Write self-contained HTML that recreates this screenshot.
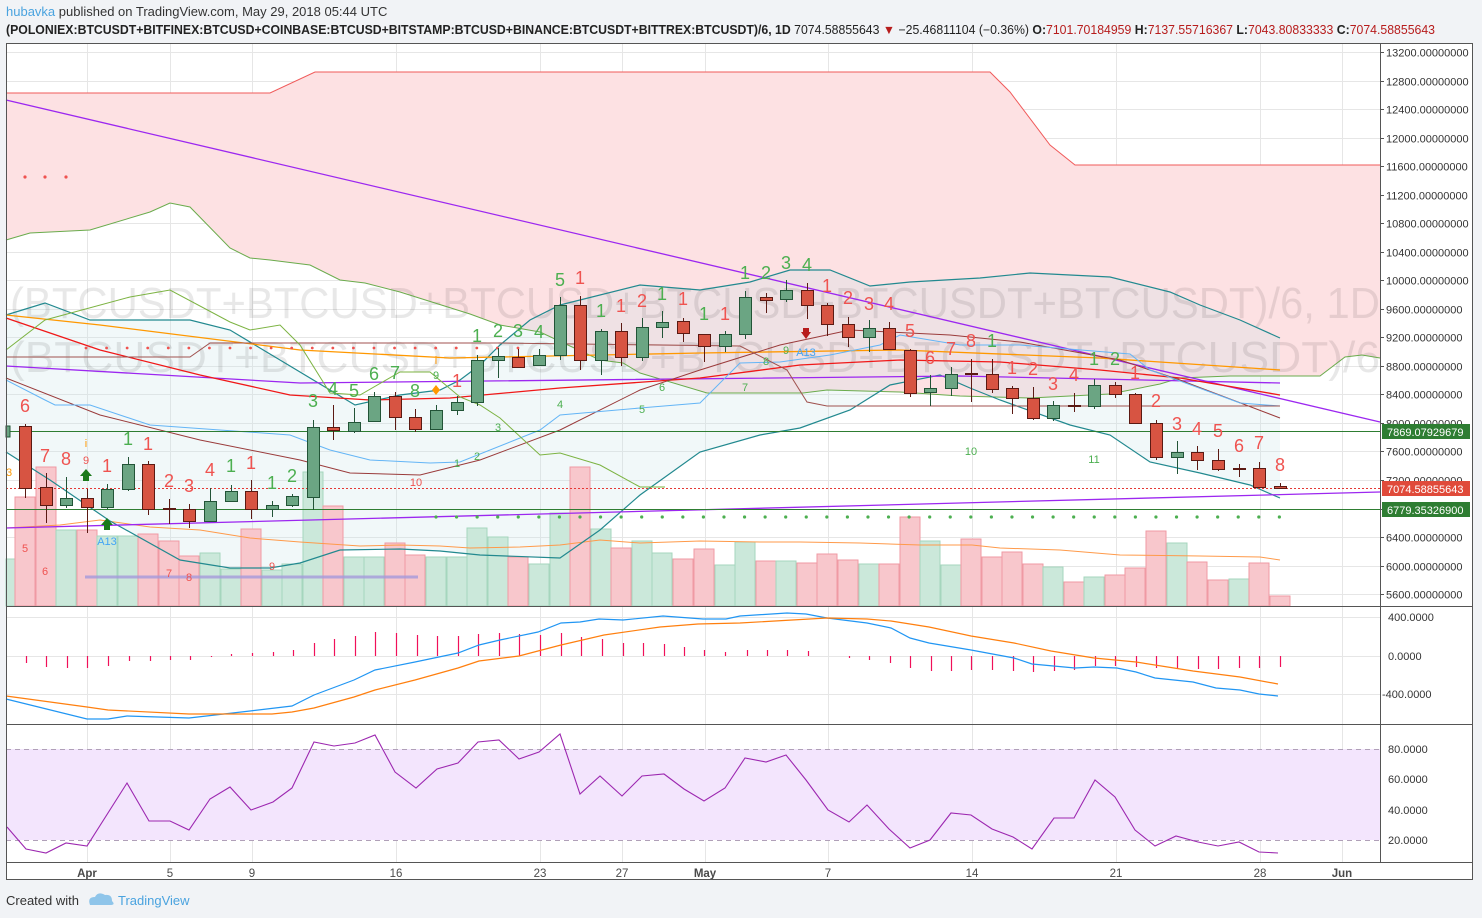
<!DOCTYPE html>
<html><head><meta charset="utf-8"><style>
html,body{margin:0;padding:0;background:#f1f3f6;}
svg{display:block;font-family:"Liberation Sans",sans-serif;}
</style></head><body>
<svg id="s" width="1482" height="918" viewBox="0 0 1482 918" xmlns="http://www.w3.org/2000/svg">
<rect x="0" y="0" width="1482" height="918" fill="#f1f3f6"/>
<rect x="6" y="43" width="1467" height="837" fill="#fff"/>
<g id="grid" stroke="#e6e6e6" stroke-width="1"></g>
<g id="bg"></g>
<text x="10" y="318" font-size="44" fill="rgba(0,0,0,0.09)" textLength="1370" lengthAdjust="spacingAndGlyphs">(BTCUSDT+BTCUSD+BTCUSD+BTCUSD+BTCUSDT+BTCUSDT)/6, 1D</text>
<text x="10" y="372" font-size="44" fill="rgba(0,0,0,0.09)" textLength="1370" lengthAdjust="spacingAndGlyphs">(BTCUSDT+BTCUSD+BTCUSD+BTCUSD+BTCUSDT+BTCUSDT)/6</text>
<g id="fg"></g>
<g font-size="18" text-anchor="middle" fill="#ef5350">
<text x="25" y="412">6</text><text x="45" y="462">7</text><text x="66" y="465">8</text><text x="107" y="472">1</text><text x="148" y="450">1</text><text x="169" y="487">2</text><text x="189" y="492">3</text><text x="210" y="476">4</text><text x="251" y="469">1</text><text x="457" y="387">1</text><text x="580" y="284">1</text><text x="621" y="312">1</text><text x="642" y="307">2</text><text x="683" y="305">1</text><text x="725" y="320">1</text><text x="827" y="292">1</text><text x="848" y="304">2</text><text x="869" y="310">3</text><text x="889" y="310">4</text><text x="910" y="337">5</text><text x="930" y="364">6</text><text x="951" y="355">7</text><text x="971" y="347">8</text><text x="1012" y="374">1</text><text x="1033" y="375">2</text><text x="1053" y="390">3</text><text x="1074" y="381">4</text><text x="1135" y="379">1</text><text x="1156" y="407">2</text><text x="1177" y="430">3</text><text x="1197" y="435">4</text><text x="1218" y="437">5</text><text x="1239" y="452">6</text><text x="1259" y="449">7</text><text x="1280" y="471">8</text>
</g>
<g font-size="18" text-anchor="middle" fill="#4caf50">
<text x="128" y="445">1</text><text x="231" y="472">1</text><text x="272" y="489">1</text><text x="292" y="482">2</text><text x="313" y="407">3</text><text x="333" y="395">4</text><text x="354" y="397">5</text><text x="374" y="380">6</text><text x="395" y="379">7</text><text x="415" y="397">8</text><text x="477" y="342">1</text><text x="498" y="337">2</text><text x="518" y="337">3</text><text x="539" y="338">4</text><text x="560" y="286">5</text><text x="601" y="317">1</text><text x="662" y="300">1</text><text x="704" y="320">1</text><text x="745" y="279">1</text><text x="766" y="279">2</text><text x="786" y="269">3</text><text x="807" y="271">4</text><text x="992" y="347">1</text><text x="1094" y="365">1</text><text x="1115" y="365">2</text>
</g>
<g font-size="11" text-anchor="middle">
<text x="25" y="552" fill="#ef5350">5</text><text x="45" y="575" fill="#ef5350">6</text><text x="86" y="464" fill="#ef5350">9</text><text x="169" y="577" fill="#ef5350">7</text><text x="189" y="581" fill="#ef5350">8</text><text x="272" y="570" fill="#ef5350">9</text><text x="416" y="486" fill="#ef5350">10</text>
<text x="436" y="379" fill="#4caf50">9</text><text x="457" y="467" fill="#4caf50">1</text><text x="477" y="460" fill="#4caf50">2</text><text x="498" y="431" fill="#4caf50">3</text><text x="560" y="408" fill="#4caf50">4</text><text x="642" y="413" fill="#4caf50">5</text><text x="662" y="391" fill="#4caf50">6</text><text x="745" y="391" fill="#4caf50">7</text><text x="766" y="365" fill="#4caf50">8</text><text x="786" y="354" fill="#4caf50">9</text><text x="971" y="455" fill="#4caf50">10</text><text x="1094" y="463" fill="#4caf50">11</text>
<text x="107" y="545" fill="#42a5f5">A13</text><text x="806" y="356" fill="#42a5f5">A13</text>
<text x="9" y="476" fill="#ff9800">3</text><text x="86" y="447" fill="#ff9800">i</text><text x="436" y="364" fill="#ff9800">i</text>
</g>
<path d="M80,476 L86,469 L92,476 L89,476 L89,481 L83,481 L83,476Z" fill="#1b7a1b"/>
<path d="M101,525 L107,518 L113,525 L110,525 L110,530 L104,530 L104,525Z" fill="#1b7a1b"/>
<path d="M801,332 L811,332 L811,332 L806,339Z M803,328 h6 v5 h-6Z" fill="#b71c1c"/>
<path d="M436,385 L440,390 L436,395 L432,390Z" fill="#ff9800"/>
<g id="plab" font-size="11" fill="#333"></g>
<rect x="1382" y="424" width="88" height="15" fill="#2e7d32"/><text x="1387" y="436" font-size="11" fill="#fff">7869.07929679</text>
<rect x="1382" y="481" width="88" height="15" fill="#e04a3a"/><text x="1387" y="493" font-size="11" fill="#fff">7074.58855643</text>
<rect x="1382" y="502" width="88" height="15" fill="#2e7d32"/><text x="1387" y="514" font-size="11" fill="#fff">6779.35326900</text>
<g font-size="11" fill="#333">
<text x="1388" y="621">400.0000</text><text x="1388" y="660">0.0000</text><text x="1382" y="698">-400.0000</text>
<text x="1388" y="753">80.0000</text><text x="1388" y="783">60.0000</text><text x="1388" y="814">40.0000</text><text x="1388" y="844">20.0000</text>
</g>
<g font-size="11.5" fill="#4a4a4a" text-anchor="middle">
<text x="87" y="877" font-weight="bold">Apr</text><text x="170" y="877">5</text><text x="252" y="877">9</text><text x="396" y="877">16</text><text x="540" y="877">23</text><text x="622" y="877">27</text><text x="705" y="877" font-weight="bold">May</text><text x="828" y="877">7</text><text x="972" y="877">14</text><text x="1116" y="877">21</text><text x="1260" y="877">28</text><text x="1342" y="877" font-weight="bold">Jun</text>
</g>
<g stroke="#555" fill="none" stroke-width="1">
<rect x="6.5" y="43.5" width="1466" height="836"/>
<line x1="1380.5" y1="43" x2="1380.5" y2="862"/>
<line x1="6" y1="606.5" x2="1473" y2="606.5"/>
<line x1="6" y1="724.5" x2="1473" y2="724.5"/>
<line x1="6" y1="862.5" x2="1473" y2="862.5"/>
</g>
<text x="6" y="16" font-size="13" fill="#333"><tspan fill="#4aa3df">hubavka</tspan> published on TradingView.com, May 29, 2018 05:44 UTC</text>
<text x="6" y="34" font-size="12.5" font-weight="bold" fill="#222" textLength="1429" lengthAdjust="spacingAndGlyphs">(POLONIEX:BTCUSDT+BITFINEX:BTCUSD+COINBASE:BTCUSD+BITSTAMP:BTCUSD+BINANCE:BTCUSDT+BITTREX:BTCUSDT)/6, 1D <tspan font-weight="normal">7074.58855643</tspan> <tspan fill="#b71c1c">▼</tspan> <tspan font-weight="normal">−25.46811104 (−0.36%)</tspan> O:<tspan fill="#b71c1c" font-weight="normal">7101.70184959</tspan> H:<tspan fill="#b71c1c" font-weight="normal">7137.55716367</tspan> L:<tspan fill="#b71c1c" font-weight="normal">7043.80833333</tspan> C:<tspan fill="#b71c1c" font-weight="normal">7074.58855643</tspan></text>
<text x="6" y="905" font-size="13" fill="#333">Created with</text>
<path d="M90,905 q-3,-8 5,-8 q3,-6 10,-2 q7,-1 7,6 q4,4 -2,4Z" fill="#8fc5ea"/>
<text x="118" y="905" font-size="13" fill="#4aa3df">TradingView</text>
</svg>
<script>
(function(){
const NS="http://www.w3.org/2000/svg";
function el(p,t,a){const e=document.createElementNS(NS,t);for(const k in a)e.setAttribute(k,a[k]);document.getElementById(p).appendChild(e);return e;}
function pl(p,pts,st,w,extra){const a={points:pts.map(q=>q.join(',')).join(' '),fill:'none',stroke:st,'stroke-width':w||1};Object.assign(a,extra||{});return el(p,'polyline',a);}
[87,170,252,396,540,622,705,828,972,1116,1260,1342].forEach(x=>el('grid','line',{x1:x+.5,y1:43,x2:x+.5,y2:862}));
const yp=p=>52+(13200-p)*0.07133;
for(let p=13200;p>=5600;p-=400){const y=Math.round(yp(p))+.5;el('grid','line',{x1:6,y1:y,x2:1380,y2:y});const t=el('plab','text',{x:1386,y:y+4});t.textContent=p+'.00000000';el('plab','line',{x1:1380,y1:y,x2:1384,y2:y,stroke:'#555'});}
[617,656,694,779,810].forEach(y=>el('grid','line',{x1:6,y1:y+.5,x2:1380,y2:y+.5}));
el('bg','rect',{x:6,y:749,width:1374,height:91,fill:'#f3e5fd'});
el('bg','line',{x1:6,y1:749.5,x2:1380,y2:749.5,stroke:'#b0a0b8','stroke-dasharray':'5,4'});
el('bg','line',{x1:6,y1:840.5,x2:1380,y2:840.5,stroke:'#b0a0b8','stroke-dasharray':'5,4'});
const ctop=[[6,93],[270,93],[315,72],[990,72],[1010,92],[1050,145],[1075,165],[1380,165]];
const bot=[[6,240],[30,233],[90,230],[150,212],[170,203],[190,207],[230,248],[250,258],[270,260],[310,265],[340,280],[365,283],[400,292],[470,314],[500,325],[540,332],[600,360],[623,363],[640,373],[707,393],[803,393],[827,390],[900,392],[960,396],[1030,398],[1110,394],[1160,384],[1180,378],[1230,376],[1320,376],[1345,357],[1362,355],[1380,358]];
el('bg','polygon',{points:ctop.concat(bot.slice().reverse()).map(q=>q.join(',')).join(' '),fill:'#fde1e3'});
const bu=[[6,315],[45,303],[90,320],[150,320],[190,320],[230,330],[280,360],[330,390],[355,405],[400,395],[440,390],[460,380],[480,365],[500,345],[530,320],[560,305],[640,285],[700,290],[750,282],[790,270],[830,270],[870,286],[910,282],[980,278],[1030,273],[1110,277],[1170,292],[1200,305],[1240,320],[1280,338]];
const bl=[[6,452],[50,480],[110,521],[180,560],[230,568],[270,568],[300,563],[340,550],[400,549],[440,551],[480,555],[560,558],[600,530],[640,495],[700,452],[760,435],[800,428],[850,410],[890,385],[940,375],[970,388],[1000,400],[1070,425],[1110,435],[1150,462],[1200,473],[1250,485],[1280,498]];
el('bg','polygon',{points:bu.concat(bl.slice().reverse()).map(q=>q.join(',')).join(' '),fill:'rgba(200,228,232,0.25)'});
const vol=[[5,559,'g'],[25,497,'r'],[46,467,'r'],[66,530,'g'],[87,530,'r'],[107,536,'g'],[128,536,'g'],[148,534,'r'],[169,541,'r'],[189,556,'r'],[210,553,'g'],[231,569,'g'],[251,529,'r'],[272,570,'g'],[292,564,'g'],[313,472,'g'],[333,506,'r'],[354,557,'g'],[374,557,'g'],[395,543,'r'],[415,555,'r'],[436,557,'g'],[457,557,'g'],[477,528,'g'],[498,537,'g'],[518,557,'r'],[539,564,'g'],[560,513,'g'],[580,467,'r'],[601,529,'g'],[621,548,'r'],[642,541,'g'],[662,553,'g'],[683,559,'r'],[704,549,'r'],[725,565,'g'],[745,542,'g'],[766,561,'r'],[786,561,'g'],[807,563,'r'],[827,554,'r'],[848,560,'r'],[869,564,'g'],[889,564,'r'],[910,517,'r'],[930,541,'g'],[951,565,'g'],[971,539,'r'],[992,557,'r'],[1012,552,'r'],[1033,564,'r'],[1053,567,'g'],[1074,582,'r'],[1094,577,'g'],[1115,575,'r'],[1135,568,'r'],[1156,531,'r'],[1177,543,'g'],[1197,562,'r'],[1218,580,'r'],[1239,579,'g'],[1259,563,'r'],[1280,596,'r']];
vol.forEach(v=>{const x0=Math.max(6,v[0]-10);el('bg','rect',{x:x0,y:v[1],width:v[0]+10-x0,height:606-v[1],fill:v[2]=='g'?'#cbe8da':'#f8c7cc',stroke:v[2]=='g'?'#a5d6bd':'#ef9aa3','stroke-width':1});});
pl('bg',[[6,528],[60,525],[100,520],[150,527],[200,530],[250,538],[300,542],[360,546],[400,545],[440,546],[470,548],[520,547],[560,545],[600,540],[640,543],[700,541],[760,542],[800,542],[860,543],[920,545],[972,545],[1000,548],[1060,550],[1120,555],[1200,556],[1260,557],[1280,560]],'#ff9a4a',1);
el('bg','line',{x1:85,y1:577,x2:418,y2:577,stroke:'#a59adb','stroke-width':3,opacity:.8});
pl('fg',ctop,'#f05a5a',1);
pl('fg',bot,'#6aab4c',1);
pl('fg',bu,'#22898f',1.2);
pl('fg',bl,'#22898f',1.2);
pl('fg',[[6,100],[1380,422]],'#9c27f0',1.3);
pl('fg',[[6,528],[1380,492]],'#9c27f0',1.3);
pl('fg',[[6,366],[300,383],[960,376],[1280,383]],'#9c27f0',1.3);
pl('fg',[[6,318],[100,350],[200,375],[290,395],[370,400],[450,398],[560,388],[700,378],[800,365],[900,360],[1000,362],[1100,370],[1180,378],[1280,395]],'#f01818',1.3);
pl('fg',[[6,315],[100,325],[300,350],[450,358],[700,353],[900,350],[1100,358],[1280,370]],'#ff9800',1.3);
pl('fg',[[6,378],[100,415],[200,440],[300,460],[350,473],[420,475],[480,460],[560,430],[640,390],[700,370],[780,345],[850,330],[950,335],[1020,342],[1120,360],[1180,380],[1280,418]],'#9a3b3b',1);
pl('fg',[[6,380],[45,400],[55,405],[90,405],[150,425],[290,435],[330,450],[370,460],[430,463],[460,462],[540,430],[560,415],[640,408],[700,403],[740,363],[780,362],[830,355],[880,345],[900,335],[960,345],[1020,345],[1130,354],[1150,370],[1240,403],[1280,406]],'#64b5f6',1);
pl('fg',[[6,357],[70,357],[190,357],[210,343],[500,343],[740,346],[787,370],[807,402],[827,406],[1280,406]],'#a0524f',1);
pl('fg',[[6,350],[45,320],[130,297],[170,290],[230,322],[250,330],[280,325],[300,345],[330,393],[360,395],[400,372],[430,372],[460,397],[480,405],[500,418],[540,455],[560,453],[600,465],[640,487],[665,487]],'#7cb342',1);
el('fg','line',{x1:6,y1:431.5,x2:1380,y2:431.5,stroke:'#2e7d32','stroke-width':1});
el('fg','line',{x1:6,y1:509.5,x2:1380,y2:509.5,stroke:'#2e7d32','stroke-width':1});
el('fg','line',{x1:6,y1:488.5,x2:1380,y2:488.5,stroke:'#e53935','stroke-width':1,'stroke-dasharray':'2,2'});
for(let x=436;x<=1281;x+=20.57)el('fg','circle',{cx:x,cy:517,r:1.6,fill:'#4caf50'});
for(let x=86;x<=521;x+=20.57)el('fg','circle',{cx:x,cy:348,r:1.4,fill:'#ef5350'});
[25,45,66].forEach(x=>el('fg','circle',{cx:x,cy:177,r:1.6,fill:'#ef5350'}));
const c=[[25,426,488,424,498],[46,487,505,473,523],[66,505,498,477,508],[87,498,507,489,533],[107,507,489,484,509],[128,489,464,457,491],[148,464,509,461,515],[169,508,509,499,524],[189,509,521,504,528],[210,521,501,488,521],[231,501,491,485,502],[251,491,509,480,519],[272,509,505,501,517],[292,505,496,494,507],[313,497,427,420,510],[333,427,430,405,440],[354,431,422,408,433],[374,421,396,392,421],[395,396,417,392,430],[415,417,429,409,432],[436,429,410,405,430],[457,410,402,396,415],[477,402,360,355,406],[498,360,356,348,378],[518,357,367,349,368],[539,365,355,349,366],[560,355,305,297,360],[580,305,360,296,370],[601,360,331,329,375],[621,331,357,323,366],[642,357,327,318,361],[662,327,322,311,338],[683,321,333,318,342],[704,334,346,334,362],[725,346,334,331,352],[745,334,297,291,339],[766,297,300,293,313],[786,299,290,280,302],[807,290,305,283,319],[827,305,324,303,336],[848,324,337,317,347],[869,337,328,320,352],[889,328,349,322,350],[910,350,393,349,397],[930,392,388,375,406],[951,388,374,367,396],[971,373,374,359,402],[992,374,389,359,393],[1012,388,398,386,414],[1033,398,418,387,420],[1053,418,405,401,421],[1074,405,405.5,393,412],[1094,406,385,379,409],[1115,385,394,382,398],[1135,394,423,393,424],[1156,423,457,420,460],[1177,457,452,441,474],[1197,452,460,446,470],[1218,460,469,449,471],[1239,468,468.5,464,477],[1259,468,487,462,488],[1280,486,488,483,489]];
el('fg','rect',{x:6,y:426,width:4,height:11,fill:'#6ba583',stroke:'#225437'});
c.forEach(d=>{const g=d[2]<d[1];const col=g?'#225437':'#5b1a13';el('fg','line',{x1:d[0]+.5,y1:d[3],x2:d[0]+.5,y2:d[4],stroke:col});const t=Math.min(d[1],d[2]),b=Math.max(d[1],d[2]);el('fg','rect',{x:d[0]-6+.5,y:t+.5,width:12,height:Math.max(1,b-t),fill:g?'#6ba583':'#d75442',stroke:col});});
const hist=[[26,663],[46,667],[67,668],[87,668],[108,666],[129,661],[150,661],[170,660],[190,660],[211,657],[231,654],[252,653],[273,652],[293,650],[314,643],[334,639],[355,636],[375,632],[396,633],[417,635],[437,636],[458,636],[478,634],[499,633],[519,634],[540,635],[561,633],[581,637],[602,639],[623,643],[643,643],[664,644],[684,647],[704,650],[725,652],[747,650],[767,650],[787,650],[808,651],[828,656],[849,658],[869,660],[890,663],[910,668],[931,671],[951,671],[971,670],[992,670],[1013,671],[1033,672],[1054,671],[1074,670],[1095,666],[1115,666],[1136,667],[1156,668],[1177,668],[1198,669],[1218,669],[1239,668],[1259,668],[1280,667]];
hist.forEach(h=>el('fg','line',{x1:h[0]+.5,y1:656,x2:h[0]+.5,y2:h[1],stroke:'#f0105a','stroke-width':1.2}));
pl('fg',[[6,699],[87,719],[108,719],[127,716],[189,718],[250,711],[292,706],[314,695],[354,680],[375,670],[415,662],[458,653],[479,645],[500,640],[538,632],[561,623],[580,622],[599,619],[623,620],[663,616],[703,619],[726,619],[740,616],[787,613],[806,614],[827,618],[867,623],[891,628],[910,638],[929,643],[971,650],[1014,658],[1032,664],[1075,668],[1094,667],[1117,668],[1136,672],[1155,678],[1193,682],[1216,688],[1240,690],[1259,694],[1278,696]],'#2196f3',1.2);
pl('fg',[[6,696],[87,707],[108,710],[189,714],[272,714],[292,712],[314,708],[354,697],[375,690],[415,680],[458,668],[479,661],[519,656],[538,651],[561,645],[604,635],[660,627],[698,624],[740,623],[827,618],[867,619],[891,621],[929,627],[971,636],[1014,643],[1051,651],[1094,658],[1136,662],[1193,671],[1240,677],[1278,684]],'#ff7f0e',1.2);
pl('fg',[[7,827],[26,849],[46,853],[66,843],[87,846],[127,783],[149,821],[170,821],[189,830],[210,799],[230,787],[251,810],[273,802],[292,788],[314,742],[334,746],[355,743],[375,735],[395,772],[416,788],[437,769],[458,763],[478,742],[499,740],[519,759],[539,752],[560,734],[580,794],[600,776],[622,796],[642,776],[664,774],[684,789],[704,801],[725,788],[745,758],[766,762],[786,755],[806,780],[828,810],[849,822],[867,805],[889,829],[910,848],[930,840],[951,813],[971,815],[992,829],[1013,837],[1032,849],[1054,818],[1074,818],[1095,780],[1115,797],[1135,830],[1155,846],[1176,836],[1198,842],[1218,846],[1239,842],[1259,852],[1278,853]],'#9c27b0',1.1);
})();
</script>
</body></html>
